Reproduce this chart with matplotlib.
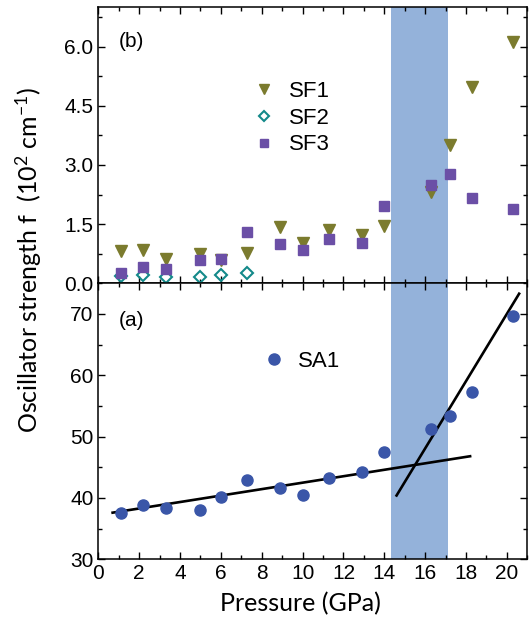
import matplotlib
matplotlib.use('Agg')
import matplotlib.pyplot as plt
from matplotlib.ticker import MultipleLocator, FormatStrFormatter

plt.rcParams['font.family'] = ['Liberation Sans', 'DejaVu Sans']
plt.rcParams['mathtext.fontset'] = 'custom'
plt.rcParams['mathtext.rm'] = 'Lato'
plt.rcParams['mathtext.it'] = 'Lato:italic'

# Data
pressure = [1.1, 2.2, 3.3, 5.0, 6.0, 7.3, 8.9, 10.0, 11.3, 12.9, 14.0, 16.3, 17.2, 18.3, 20.3]
sa1 = [37.5, 38.8, 38.4, 38.0, 40.2, 43.0, 41.6, 40.4, 43.2, 44.2, 47.5, 51.2, 53.4, 57.2, 69.7]
sf1 = [0.82, 0.85, 0.62, 0.75, 0.58, 0.76, 1.42, 1.03, 1.36, 1.23, 1.46, 2.31, 3.50, 4.97, 6.11]
sf2 = [0.19, 0.20, 0.15, 0.15, 0.21, 0.27]
sf3 = [0.27, 0.42, 0.36, 0.59, 0.62, 1.29, 0.99, 0.85, 1.13, 1.03, 1.97, 2.50, 2.76, 2.16, 1.88]

# linear guides in panel (a)
fit_low_x = [0.7, 18.2]
fit_low_y = [37.6, 46.8]
fit_high_x = [14.6, 20.6]
fit_high_y = [40.4, 73.3]

# transition region
band = (14.35, 17.12)

c_sf1 = '#7b7b2e'
c_sf2 = '#13898a'
c_sf3 = '#6b4fa6'
c_sa1 = '#3a56a8'
c_band = '#94b2da'

fig = plt.figure(figsize=(5.3, 6.27), dpi=100)
ax_b = fig.add_axes([0.1855, 0.5482, 0.8094, 0.4402])
ax_a = fig.add_axes([0.1855, 0.108, 0.8094, 0.4402])

for ax in (ax_a, ax_b):
    ax.axvspan(band[0], band[1], color=c_band, lw=0, zorder=0)
    ax.set_xlim(0, 21)
    ax.xaxis.set_major_locator(MultipleLocator(2))
    ax.xaxis.set_minor_locator(MultipleLocator(1))
    ax.tick_params(which='both', direction='in', top=True, right=True,
                   labelsize=15, width=1)
    ax.tick_params(which='major', length=5)
    ax.tick_params(which='minor', length=3)
    for s in ax.spines.values():
        s.set_linewidth(1.1)

# (b) panel
ax_b.plot(pressure, sf1, 'v', color=c_sf1, ms=9, ls='none', label='SF1', zorder=3)
ax_b.plot(pressure[:len(sf2)], sf2, 'D', mfc='none', mec=c_sf2, mew=1.5, ms=6,
          ls='none', label='SF2', zorder=3)
ax_b.plot(pressure, sf3, 's', color=c_sf3, ms=7, ls='none', label='SF3', zorder=3)
ax_b.set_ylim(0, 7.0)
ax_b.yaxis.set_major_locator(MultipleLocator(1.5))
ax_b.yaxis.set_minor_locator(MultipleLocator(0.75))
ax_b.yaxis.set_major_formatter(FormatStrFormatter('%.1f'))
ax_b.tick_params(labelbottom=False)
ax_b.text(0.047, 0.856, '(b)', transform=ax_b.transAxes, fontsize=15)
ax_b.legend(loc='upper left', bbox_to_anchor=(0.3345, 0.774), frameon=False,
            fontsize=16, markerscale=0.85, handlelength=1.0, handletextpad=0.64,
            labelspacing=0.26, borderpad=0)

# (a) panel
ax_a.plot(pressure, sa1, 'o', color=c_sa1, ms=8, ls='none', label='SA1', zorder=3)
ax_a.plot(fit_low_x, fit_low_y, color='black', lw=1.9, zorder=2)
ax_a.plot(fit_high_x, fit_high_y, color='black', lw=1.9, zorder=2)
ax_a.set_ylim(30, 75)
ax_a.yaxis.set_major_locator(MultipleLocator(10))
ax_a.yaxis.set_minor_locator(MultipleLocator(5))
ax_a.text(0.047, 0.845, '(a)', transform=ax_a.transAxes, fontsize=15)
ax_a.legend(loc='upper left', bbox_to_anchor=(0.358, 0.7956), frameon=False,
            fontsize=16, handlelength=1.0, handletextpad=0.57, borderpad=0)

fig.text(0.567, 0.025, 'Pressure (GPa)', fontsize=18, family='Lato', ha='center')
fig.text(0.055, 0.586, 'Oscillator strength f  (10$^2$ cm$^{-1}$)', fontsize=18,
         family='Lato', rotation=90, ha='center', va='center')

fig.savefig('out.png', dpi=100)
